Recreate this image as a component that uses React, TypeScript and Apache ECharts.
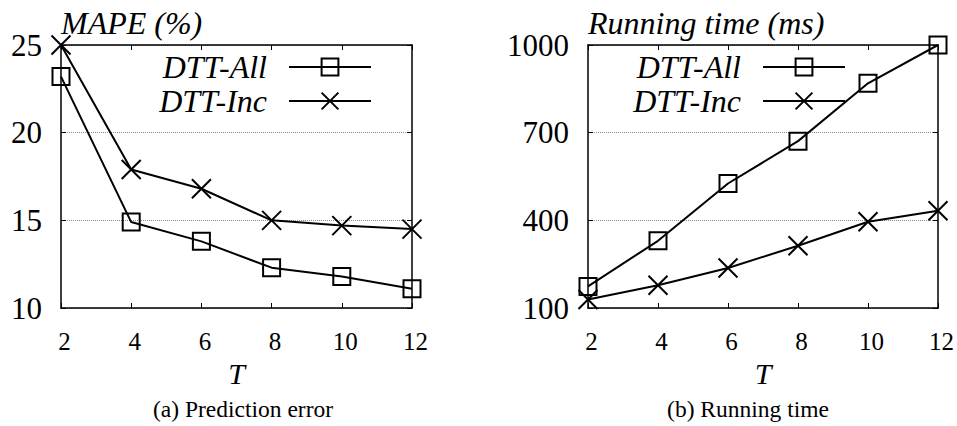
import React, { useEffect, useRef } from "react";
import * as echarts from "echarts";

// Window sizes T on the x axis
const T_VALUES = [2, 4, 6, 8, 10, 12];
// (a) prediction error, MAPE in %
const MAPE_ALL = [23.2, 14.9, 13.8, 12.3, 11.8, 11.1];
const MAPE_INC = [25.0, 17.9, 16.8, 15.0, 14.7, 14.5];
// (b) running time in ms
const TIME_ALL = [174, 330, 526, 671, 869, 1000];
const TIME_INC = [129, 178, 237, 313, 395, 433];
// y tick labels
const MAPE_TICKS = [10, 15, 20, 25];
const TIME_TICKS = [100, 400, 700, 1000];
const SERIES_NAMES = ["DTT-All", "DTT-Inc"];
const CAPTIONS = ["(a) Prediction error", "(b) Running time"];

const FONT = "Liberation Serif, Times New Roman, Times, serif";
const CROSS = "path://M0,0L20,20M20,0L0,20";

const frameLine = { show: true, onZero: false, lineStyle: { color: "#000", width: 1.5 } };
const tickStyle = { show: true, inside: true, length: 5, lineStyle: { color: "#000", width: 1 } };

function xAxes(gridIndex: number) {
  return [
    {
      type: "value",
      gridIndex,
      position: "bottom",
      min: 2,
      max: 12,
      interval: 2,
      axisLine: frameLine,
      axisTick: tickStyle,
      splitLine: { show: false },
      axisLabel: { fontFamily: FONT, fontSize: 25, color: "#000", margin: 21, padding: [0, 0, 0, 7] },
      name: "T",
      nameLocation: "middle",
      nameGap: 64,
      nameTextStyle: {
        fontFamily: FONT,
        fontStyle: "italic",
        fontSize: 30,
        color: "#000",
        verticalAlign: "middle",
      },
    },
    {
      type: "value",
      gridIndex,
      position: "top",
      min: 2,
      max: 12,
      interval: 2,
      axisLine: frameLine,
      axisTick: tickStyle,
      axisLabel: { show: false },
      splitLine: { show: false },
    },
  ];
}

function yAxes(gridIndex: number, ticks: number[], title: string) {
  const min = ticks[0];
  const max = ticks[ticks.length - 1];
  return [
    {
      type: "value",
      gridIndex,
      position: "left",
      min,
      max,
      axisLine: frameLine,
      axisTick: { ...tickStyle, customValues: ticks },
      axisLabel: {
        customValues: ticks,
        formatter: (v: number) => String(v),
        fontFamily: FONT,
        fontSize: 31,
        color: "#000",
        margin: 19,
      },
      splitLine: { show: true, lineStyle: { color: "#8a8a8a", type: "dotted", width: 1 } },
      name: title,
      nameLocation: "end",
      nameGap: 22,
      nameTextStyle: {
        fontFamily: FONT,
        fontStyle: "italic",
        fontSize: 32,
        color: "#000",
        align: "left",
        verticalAlign: "middle",
      },
    },
    {
      type: "value",
      gridIndex,
      position: "right",
      min,
      max,
      axisLine: frameLine,
      axisTick: { ...tickStyle, customValues: ticks },
      axisLabel: { show: false, customValues: ticks },
      splitLine: { show: false },
    },
  ];
}

function lineSeries(name: string, ys: number[], axisIndex: number, symbol: string, size: number) {
  return {
    type: "line",
    name,
    data: T_VALUES.map((t, i) => [t, ys[i]]),
    xAxisIndex: axisIndex,
    yAxisIndex: axisIndex,
    symbol,
    symbolSize: size,
    clip: false,
    z: 3,
    lineStyle: { color: "#000", width: 2 },
    itemStyle: { color: "transparent", borderColor: "#000", borderWidth: 2 },
    emphasis: { disabled: true },
  };
}

function legendAt(right: number) {
  return {
    data: SERIES_NAMES,
    orient: "vertical",
    right,
    top: 51,
    align: "right",
    itemWidth: 82,
    itemHeight: 21,
    itemGap: 2,
    padding: 0,
    selectedMode: false,
    textStyle: {
      fontFamily: FONT,
      fontStyle: "italic",
      fontSize: 32,
      color: "#000",
      lineHeight: 30,
      padding: [0, 17, 0, 0],
    },
  };
}

export default function App() {
  const ref = useRef<HTMLDivElement>(null);

  useEffect(() => {
    if (!ref.current) return;
    const chart = echarts.init(ref.current, undefined, { renderer: "svg" });
    chart.setOption({
      animation: false,
      backgroundColor: "#fff",
      grid: [
        { left: 61, top: 45, width: 351, height: 263 },
        { left: 588, top: 45, width: 351, height: 263 },
      ],
      xAxis: [...xAxes(0), ...xAxes(1)],
      yAxis: [...yAxes(0, MAPE_TICKS, "MAPE (%)"), ...yAxes(1, TIME_TICKS, "Running time (ms)")],
      legend: [legendAt(585), legendAt(111)],
      series: [
        lineSeries(SERIES_NAMES[0], MAPE_ALL, 0, "rect", 17),
        lineSeries(SERIES_NAMES[1], MAPE_INC, 0, CROSS, 19),
        lineSeries(SERIES_NAMES[0], TIME_ALL, 2, "rect", 17),
        lineSeries(SERIES_NAMES[1], TIME_INC, 2, CROSS, 19),
      ],
      graphic: CAPTIONS.map((text, i) => ({
        type: "text",
        x: i === 0 ? 243 : 748,
        y: 409,
        style: {
          text,
          fontFamily: FONT,
          fontSize: 23.5,
          fill: "#000",
          textAlign: "center",
          textVerticalAlign: "middle",
        },
      })),
    });
    return () => chart.dispose();
  }, []);

  return (
    <div
      ref={ref}
      style={{ position: "absolute", left: 0, top: 0, width: 957, height: 426 }}
    />
  );
}
